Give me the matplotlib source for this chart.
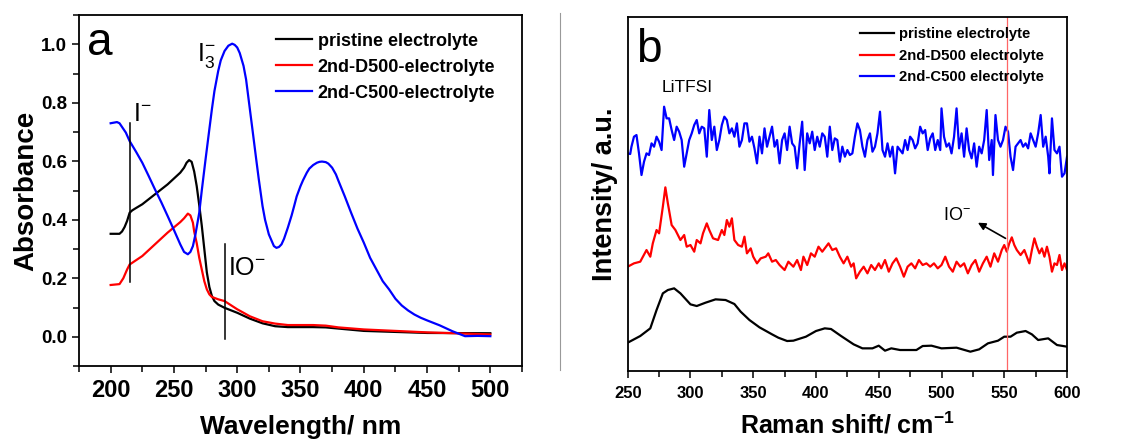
import matplotlib
matplotlib.use("Agg")
import matplotlib.pyplot as plt
from matplotlib.lines import Line2D
from matplotlib.ticker import MultipleLocator

plt.rcParams["font.family"] = ["Liberation Sans", "DejaVu Sans"]
plt.rcParams["mathtext.fontset"] = "custom"
plt.rcParams["mathtext.rm"] = "Liberation Sans"
plt.rcParams["mathtext.default"] = "regular"

# ---- panel a: UV-vis absorbance ----
wl_black = [200, 207, 209, 211, 213, 215, 217, 220, 225, 235, 245, 255, 258,
            260, 262, 264, 266, 268, 270, 272, 274, 276, 278, 280, 282, 285,
            290, 300, 310, 320, 330, 340, 350, 360, 370, 380, 400, 450, 500]
abs_black = [0.352, 0.352, 0.36, 0.375, 0.396, 0.424, 0.432, 0.44, 0.453,
             0.487, 0.521, 0.561, 0.578, 0.595, 0.604, 0.598, 0.565, 0.515,
             0.45, 0.38, 0.30, 0.22, 0.17, 0.139, 0.122, 0.11, 0.099, 0.082,
             0.062, 0.046, 0.036, 0.033, 0.033, 0.033, 0.032, 0.028, 0.02,
             0.013, 0.012]

wl_red = [200, 207, 210, 213, 215, 225, 235, 245, 255, 258, 261, 263, 265,
          266, 268, 270, 272, 274, 276, 278, 280, 285, 290, 300, 310, 320,
          330, 340, 350, 360, 370, 380, 400, 450, 500]
abs_red = [0.177, 0.18, 0.2, 0.23, 0.247, 0.276, 0.316, 0.356, 0.392, 0.405,
           0.421, 0.415, 0.39, 0.36, 0.32, 0.27, 0.23, 0.19, 0.162, 0.145,
           0.136, 0.128, 0.122, 0.094, 0.07, 0.053, 0.045, 0.04, 0.04, 0.04,
           0.038, 0.032, 0.025, 0.015, 0.008]

wl_blue = [200, 205, 207, 212, 215, 220, 225, 230, 235, 240, 245, 250, 255,
           258, 261, 263, 265, 267, 270, 272, 275, 278, 280, 282, 285, 287,
           290, 293, 296, 298, 300, 302, 305, 307, 310, 312, 315, 317, 320,
           322, 325, 327, 329, 331, 333, 335, 337, 340, 343, 345, 347, 350,
           352, 355, 357, 360, 363, 365, 367, 370, 372, 375, 378, 380, 385,
           390, 395, 400, 405, 410, 415, 420, 425, 430, 435, 440, 445, 450,
           460, 470, 480, 490, 500]
abs_blue = [0.73, 0.734, 0.73, 0.698, 0.669, 0.633, 0.595, 0.55, 0.504, 0.46,
            0.413, 0.365, 0.316, 0.29, 0.282, 0.29, 0.31, 0.35, 0.424, 0.50,
            0.607, 0.71, 0.778, 0.84, 0.909, 0.945, 0.977, 0.995, 1.002,
            0.998, 0.989, 0.97, 0.926, 0.88, 0.778, 0.71, 0.607, 0.54, 0.447,
            0.40, 0.35, 0.33, 0.31, 0.304, 0.307, 0.316, 0.335, 0.373, 0.415,
            0.447, 0.48, 0.515, 0.535, 0.561, 0.575, 0.587, 0.595, 0.598,
            0.599, 0.597, 0.592, 0.578, 0.555, 0.533, 0.48, 0.424, 0.37,
            0.322, 0.27, 0.23, 0.19, 0.162, 0.13, 0.107, 0.09, 0.076, 0.065,
            0.056, 0.039, 0.019, 0.002, 0.003, 0.002]

labels_a = ["pristine electrolyte", "2nd-D500-electrolyte", "2nd-C500-electrolyte"]

# ---- panel b: Raman ----
raman_black = [250, 260, 268, 273, 278, 282, 287, 292, 300, 305, 312, 320,
               328, 335, 340, 347, 355, 365, 370, 377, 382, 392, 400, 407,
               412, 420, 430, 437, 445, 450, 455, 460, 467, 480, 485, 492,
               500, 512, 523, 530, 537, 545, 550, 555, 560, 567, 572, 577,
               585, 592, 600]
int_black = [85, 105, 128, 183, 233, 243, 248, 233, 200, 195, 205, 215, 213,
             201, 178, 153, 131, 110, 100, 90, 91, 103, 120, 128, 126, 105,
             80, 68, 68, 76, 61, 68, 63, 63, 75, 76, 68, 70, 58, 65, 83, 91,
             103, 103, 115, 120, 110, 93, 98, 78, 73]

raman_red = [250, 255, 260, 265, 268, 270, 273, 275, 278, 280, 282, 285, 288,
             292, 295, 297, 300, 303, 305, 308, 310, 313, 315, 318, 322, 325,
             327, 329, 331, 333, 335, 338, 341, 343, 345, 348, 350, 353, 356,
             360, 362, 365, 368, 371, 375, 378, 382, 385, 388, 390, 393, 396,
             399, 402, 405, 408, 410, 413, 416, 419, 422, 425, 428, 430, 432,
             435, 438, 441, 444, 447, 450, 452, 455, 458, 461, 464, 467, 470,
             473, 476, 479, 482, 485, 488, 491, 494, 497, 500, 503, 506, 509,
             512, 515, 518, 521, 524, 527, 530, 533, 536, 539, 542, 545, 548,
             550, 552, 554, 556, 558, 560, 563, 566, 568, 570, 572, 574, 576,
             578, 580, 582, 584, 586, 588, 590, 592, 594, 596, 598, 600]
int_red = [313, 323, 328, 363, 343, 383, 423, 413, 493, 551, 503, 438, 423,
           393, 408, 373, 378, 358, 393, 383, 413, 443, 423, 398, 393, 423,
           408, 453, 433, 458, 393, 378, 373, 403, 353, 368, 343, 323, 338,
           343, 353, 328, 333, 318, 303, 328, 313, 333, 303, 343, 318, 353,
           343, 373, 358, 373, 383, 363, 368, 343, 323, 343, 313, 323, 278,
           298, 313, 293, 318, 303, 323, 308, 333, 298, 323, 338, 313, 283,
           313, 323, 308, 333, 318, 323, 313, 323, 308, 318, 343, 313, 298,
           328, 313, 323, 293, 318, 333, 298, 323, 343, 313, 353, 328, 363,
           378, 358, 383, 401, 378, 363, 348, 363, 343, 323, 363, 398, 373,
           353, 368, 343, 373, 343, 298, 323, 318, 348, 303, 323, 303]

raman_blue = [250, 252, 253, 255, 257, 259, 261, 263, 265, 267, 269, 271, 273,
              275, 277, 279, 281, 283, 285, 287, 289, 291, 293, 295, 297, 299,
              301, 303, 305, 307, 309, 311, 313, 315, 317, 319, 321, 323, 325,
              327, 329, 331, 333, 335, 337, 339, 341, 343, 345, 347, 349, 351,
              353, 355, 357, 359, 361, 363, 365, 367, 369, 371, 373, 375, 377,
              379, 381, 383, 385, 387, 389, 391, 393, 395, 397, 399, 401, 403,
              405, 407, 409, 411, 413, 415, 417, 419, 421, 423, 425, 427, 429,
              431, 433, 435, 437, 439, 441, 443, 445, 447, 449, 451, 453, 455,
              457, 459, 461, 463, 465, 467, 469, 471, 473, 475, 477, 479, 481,
              483, 485, 487, 489, 491, 493, 495, 497, 499, 500, 502, 504, 506,
              508, 510, 512, 514, 516, 518, 520, 522, 524, 526, 528, 530, 532,
              534, 536, 538, 540, 541, 543, 545, 547, 549, 551, 553, 555, 557,
              559, 561, 563, 565, 567, 569, 571, 573, 575, 577, 579, 581, 583,
              585, 586, 588, 590, 592, 594, 596, 598, 600]
int_blue = [653, 651, 673, 703, 708, 653, 588, 628, 653, 648, 683, 673, 703,
            688, 663, 793, 758, 758, 723, 693, 733, 718, 693, 613, 653, 693,
            713, 738, 753, 713, 733, 728, 643, 783, 693, 733, 663, 693, 738,
            763, 753, 713, 728, 703, 743, 673, 693, 743, 743, 688, 703, 668,
            623, 703, 653, 728, 673, 703, 733, 673, 693, 623, 693, 713, 663,
            733, 683, 673, 608, 683, 748, 603, 713, 683, 718, 663, 703, 673,
            713, 703, 643, 733, 663, 698, 693, 628, 673, 643, 663, 648, 653,
            703, 743, 723, 673, 643, 693, 713, 658, 673, 713, 778, 663, 643,
            683, 643, 673, 593, 673, 663, 653, 693, 663, 703, 693, 668, 683,
            733, 713, 723, 663, 698, 713, 663, 693, 663, 788, 703, 673, 683,
            653, 703, 788, 668, 713, 643, 728, 663, 638, 683, 613, 673, 653,
            693, 783, 633, 693, 588, 768, 693, 673, 693, 733, 718, 643, 603,
            673, 683, 693, 673, 683, 668, 713, 693, 673, 713, 768, 673, 703,
            643, 593, 758, 663, 653, 673, 583, 593, 643]

labels_b = ["pristine electrolyte", "2nd-D500 electrolyte", "2nd-C500 electrolyte"]

fig = plt.figure(figsize=(11.32, 4.43), dpi=100)
ax1 = fig.add_axes([0.0698, 0.1738, 0.3913, 0.7923])
ax2 = fig.add_axes([0.5545, 0.1625, 0.3881, 0.7998])

lw = 1.6
ax1.plot(wl_black, abs_black, color="black", lw=lw, label=labels_a[0])
ax1.plot(wl_red, abs_red, color="#ff0000", lw=lw, label=labels_a[1])
ax1.plot(wl_blue, abs_blue, color="#0000ff", lw=lw, label=labels_a[2])

ax1.set_xlim(175, 525)
ax1.set_ylim(-0.1, 1.1)
ax1.xaxis.set_major_locator(MultipleLocator(50))
ax1.xaxis.set_minor_locator(MultipleLocator(25))
ax1.yaxis.set_major_locator(MultipleLocator(0.2))
ax1.yaxis.set_minor_locator(MultipleLocator(0.1))
ax1.yaxis.set_major_formatter(lambda v, p: f"{v:.1f}")
ax1.tick_params(axis="x", which="major", labelsize=17, length=5, width=1.1, pad=4)
ax1.tick_params(axis="y", which="major", labelsize=13.5, length=5, width=1.1)
ax1.tick_params(which="minor", length=4, width=1.1)
for lab in ax1.get_xticklabels() + ax1.get_yticklabels():
    lab.set_fontweight("bold")
ax1.set_xlabel("Wavelength/ nm", fontsize=19, fontweight="bold", labelpad=10)
ax1.set_ylabel("Absorbance", fontsize=20, fontweight="bold", labelpad=1)

# peak markers
ax1.plot([215, 215], [0.187, 0.73], color="black", lw=1.1)
ax1.plot([290, 290], [-0.009, 0.316], color="black", lw=1.1)
ax1.text(218, 0.76, "I$^{-}$", fontsize=18, va="center", ha="left")
ax1.text(293, 0.235, "IO$^{-}$", fontsize=18, va="center", ha="left")
ax1.text(268, 0.96, "I$_{3}^{-}$", fontsize=18, va="center", ha="left")
ax1.text(181, 1.08, "a", fontsize=33, va="top", ha="left")

ax1.legend(loc="upper left", bbox_to_anchor=(0.445, 0.95), frameon=False,
           prop={"weight": "bold", "size": 13}, handlelength=2.0,
           handletextpad=0.3, labelspacing=0.5, borderpad=0, borderaxespad=0)

ax2.plot(raman_black, int_black, color="black", lw=lw, label=labels_b[0])
ax2.plot(raman_red, int_red, color="#ff0000", lw=lw, label=labels_b[1])
ax2.plot(raman_blue, int_blue, color="#0000ff", lw=lw, label=labels_b[2])
ax2.axvline(552, color="#ff6666", lw=0.9)

ax2.set_xlim(250, 600)
ax2.set_ylim(0, 1063)
ax2.set_yticks([])
ax2.xaxis.set_major_locator(MultipleLocator(50))
ax2.xaxis.set_minor_locator(MultipleLocator(25))
ax2.tick_params(axis="x", which="major", labelsize=12, length=5, width=1.1, pad=6)
ax2.tick_params(which="minor", length=4, width=1.1)
for lab in ax2.get_xticklabels():
    lab.set_fontweight("bold")
ax2.set_xlabel("Raman shift/ cm$^{-1}$", fontsize=18, fontweight="bold", labelpad=8)
ax2.set_ylabel("Intensity/ a.u.", fontsize=19.5, fontweight="bold", labelpad=7)

ax2.text(297, 851, "LiTFSI", fontsize=12.5, ha="center", va="center")
ax2.text(512, 468, "IO$^{-}$", fontsize=13, ha="center", va="center")
ax2.annotate("", xy=(529, 445), xytext=(551, 398),
             arrowprops=dict(arrowstyle="-|>", color="black", lw=1.2,
                             mutation_scale=11, shrinkA=0, shrinkB=0))
ax2.text(257, 1030, "b", fontsize=33, va="top", ha="left")

ax2.legend(loc="upper left", bbox_to_anchor=(0.529, 0.97), frameon=False,
           prop={"weight": "bold", "size": 10.7}, handlelength=2.3,
           handletextpad=0.35, labelspacing=0.5, borderpad=0, borderaxespad=0)

for ax in (ax1, ax2):
    for sp in ax.spines.values():
        sp.set_linewidth(1.3)

# thin separator between the two panels
fig.add_artist(Line2D([560 / 1132, 560 / 1132], [1 - 13 / 443, 1 - 370 / 443],
                      transform=fig.transFigure, color="#999999", lw=0.8))

fig.savefig("out.png", dpi=100)
